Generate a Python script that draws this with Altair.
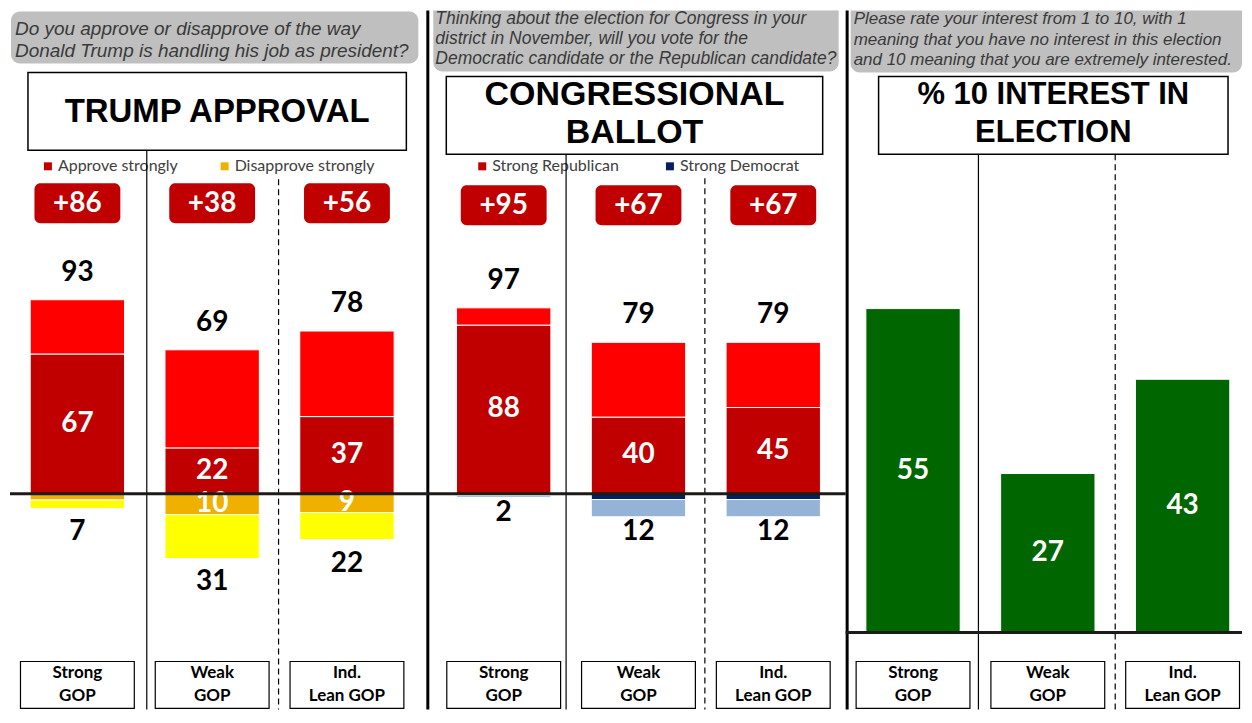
import altair as alt
import pandas as pd

# ---------------- data ----------------
groups = ["Strong GOP", "Weak GOP", "Ind. Lean GOP"]
group_line1 = ["Strong", "Weak", "Ind."]
group_line2 = ["GOP", "GOP", "Lean GOP"]

approve_strong = [67, 22, 37]
approve_total = [93, 69, 78]
disapprove_strong = [3, 10, 9]
disapprove_total = [7, 31, 22]

rep_strong = [88, 40, 45]
rep_total = [97, 79, 79]
dem_strong = [1, 3, 3]
dem_total = [2, 12, 12]

interest_10 = [55, 27, 43]

q1 = ["Do you approve or disapprove of the way",
      "Donald Trump is handling his job as president?"]
q2 = ["Thinking about the election for Congress in your",
      "district in November, will you vote for the",
      "Democratic candidate or the Republican candidate?"]
q3 = ["Please rate your interest from 1 to 10, with 1",
      "meaning that you have no interest in this election",
      "and 10 meaning that you are extremely interested."]
t1 = ["TRUMP APPROVAL"]
t2 = ["CONGRESSIONAL", "BALLOT"]
t3 = ["% 10 INTEREST IN", "ELECTION"]
legend1 = ["Approve strongly", "Disapprove strongly"]
legend2 = ["Strong Republican", "Strong Democrat"]

# ---------------- styling ----------------
H = 700
NUM_FONT = "Lato"
DARK_RED = "#C00000"
ONE = pd.DataFrame({"k": [0]})


def vtext(s, x, y, size, color="black", font="Liberation Sans", weight="normal",
          style="normal", align="center"):
    return alt.Chart(ONE).mark_text(
        text=s, font=font, fontSize=size, fontWeight=weight, fontStyle=style,
        color=color, align=align, baseline="middle"
    ).encode(x=alt.value(x), y=alt.value(y))


def vrect(x1, x2, y1, y2, **kw):
    return alt.Chart(ONE).mark_rect(**kw).encode(
        x=alt.value(x1), x2=alt.value(x2), y=alt.value(y1), y2=alt.value(y2))


def vrule(x1, y1, x2, y2, **kw):
    return alt.Chart(ONE).mark_rule(**kw).encode(
        x=alt.value(x1), x2=alt.value(x2), y=alt.value(y1), y2=alt.value(y2))


def xenc(r0, r1):
    return alt.X("group:N", axis=None,
                 scale=alt.Scale(domain=groups, range=[r0, r1],
                                 paddingInner=0.3, paddingOuter=0.15))


def yenc(field, lo, hi):
    return alt.Y(field, type="quantitative", axis=None,
                 scale=alt.Scale(domain=[lo, hi], nice=False, zero=False))


def question(lines, x0, x1, y0, y1, tx, ty0, step, size, top_round=True):
    if top_round:
        box = vrect(x0, x1, y0, y1, fill="#BFBFBF", cornerRadius=9)
    else:
        box = vrect(x0, x1, y0, y1, fill="#BFBFBF",
                    cornerRadiusBottomLeft=9, cornerRadiusBottomRight=9)
    out = [box]
    for i, s in enumerate(lines):
        out.append(vtext(s, tx, ty0 + i * step, size, color="#3A3A3A",
                         style="italic", align="left"))
    return out


def title(lines, x0, x1, y0, y1, ty0, step, size):
    out = [vrect(x0, x1, y0, y1, fill="white", stroke="black", strokeWidth=1.5)]
    cx = (x0 + x1) / 2
    for i, s in enumerate(lines):
        out.append(vtext(s, cx, ty0 + i * step, size, weight="bold"))
    return out


def legend(items, colors, xs, y):
    out = []
    for s, c, x in zip(items, colors, xs):
        out.append(vrect(x, x + 8, y - 4, y + 4, fill=c))
        out.append(vtext(s, x + 14, y, 16, color="#404040", font="Lato", align="left"))
    return out


def bottom_boxes(df, X):
    base = alt.Chart(df)
    return [
        base.mark_bar(width=114, fill="white", stroke="black", strokeWidth=1.2)
            .encode(x=X, y=alt.value(652), y2=alt.value(699)),
        base.mark_text(font="Lato", fontWeight="bold", fontSize=17, baseline="middle")
            .encode(x=X, y=alt.value(664), text="l1:N"),
        base.mark_text(font="Lato", fontWeight="bold", fontSize=17, baseline="middle")
            .encode(x=X, y=alt.value(687), text="l2:N"),
    ]


def diverging(d, X, lo, hi, cols, dy_top, dy_bot, badge_y):
    base = alt.Chart(d)
    Y = lambda f: yenc(f, lo, hi)
    sty = dict(stroke="white", strokeWidth=1)
    num = dict(font=NUM_FONT, fontWeight="bold", fontSize=28, baseline="middle")
    return [
        base.mark_bar(color=cols[0], **sty).encode(x=X, y=Y("s"), y2="zero"),
        base.mark_bar(color=cols[1], **sty).encode(x=X, y=Y("t"), y2="s"),
        base.mark_bar(color=cols[2], **sty).encode(x=X, y=Y("ns"), y2="zero"),
        base.mark_bar(color=cols[3], **sty).encode(x=X, y=Y("nt"), y2="ns"),
        base.mark_text(dy=dy_top, **num).encode(x=X, y=Y("t"), text="t:Q"),
        base.mark_text(color="white", **num).encode(x=X, y=Y("smid"), text="s:Q"),
        base.transform_filter("datum.ds >= 5").mark_text(color="white", **num)
            .encode(x=X, y=Y("nsmid"), text="ds:Q"),
        base.mark_text(dy=dy_bot, **num).encode(x=X, y=Y("nt"), text="dt:Q"),
        base.mark_bar(width=86, color=DARK_RED, cornerRadius=6)
            .encode(x=X, y=alt.value(badge_y), y2=alt.value(badge_y + 40)),
        base.mark_text(color="white", **num)
            .encode(x=X, y=alt.value(badge_y + 21), text="net:N"),
    ]


def div_frame(strong, total, opp_strong, opp_total):
    d = pd.DataFrame({"group": groups, "l1": group_line1, "l2": group_line2,
                      "s": strong, "t": total,
                      "ds": opp_strong, "dt": opp_total})
    d["ns"] = -d["ds"]
    d["nt"] = -d["dt"]
    d["zero"] = 0
    d["smid"] = d["s"] / 2
    d["nsmid"] = d["ns"] / 2
    d["net"] = ["+%d" % (a - b) for a, b in zip(total, opp_total)]
    return d


def zero_line(lo, hi, width):
    return alt.Chart(ONE).mark_rule(color="#1E1A17", strokeWidth=3).encode(
        y=alt.Y(datum=0, type="quantitative", axis=None,
                scale=alt.Scale(domain=[lo, hi], nice=False, zero=False)),
        x=alt.value(0), x2=alt.value(width))


# ---------------- panel 1: Trump approval ----------------
W1 = 417
lo1, hi1 = -(H - 484) / 2.09, 484 / 2.09
d1 = div_frame(approve_strong, approve_total, disapprove_strong, disapprove_total)
X1 = xenc(0, 405)
p1_layers = (
    question(q1, 1, 409, 1, 53, 5, 18, 23, 19)
    + title(t1, 18, 397, 62, 140, 102, 0, 33)
    + legend(legend1, [DARK_RED, "#F0B000"], [34, 211], 156)
    + [vrule(137, 140, 137, H, color="black", strokeWidth=1.2),
       vrule(269, 169, 269, H, color="black", strokeWidth=1.2, strokeDash=[6, 4])]
    + diverging(d1, X1, lo1, hi1, [DARK_RED, "#FF0000", "#F0B000", "#FFFF00"], -27, 24, 173)
    + [zero_line(lo1, hi1, W1)]
    + bottom_boxes(d1, X1)
)
p1 = alt.layer(*p1_layers).properties(width=W1, height=H)

# ---------------- panel 2: Congressional ballot ----------------
W2 = 420
lo2, hi2 = -(H - 484) / 1.92, 484 / 1.92
d2 = div_frame(rep_strong, rep_total, dem_strong, dem_total)
X2 = xenc(10, 415)
p2_layers = (
    [vrule(1.5, 0, 1.5, H, color="black", strokeWidth=3)]
    + question(q2, 7, 413, 0, 61, 9, 8, 20.5, 17.5, top_round=False)
    + title(t2, 20, 397, 66, 144, 85, 38, 34)
    + legend(legend2, [DARK_RED, "#002060"], [52, 240], 156)
    + [vrule(140, 144, 140, H, color="black", strokeWidth=1.2),
       vrule(279, 168, 279, H, color="black", strokeWidth=1.2, strokeDash=[6, 4])]
    + diverging(d2, X2, lo2, hi2, [DARK_RED, "#FF0000", "#002060", "#95B3D7"], -27, 15, 175)
    + [zero_line(lo2, hi2, W2)]
    + bottom_boxes(d2, X2)
)
p2 = alt.layer(*p2_layers).properties(width=W2, height=H)

# ---------------- panel 3: interest ----------------
W3 = 397
lo3, hi3 = -(H - 623) / 5.9, 623 / 5.9
d3 = pd.DataFrame({"group": groups, "l1": group_line1, "l2": group_line2,
                   "v": interest_10})
d3["zero"] = 0
d3["mid"] = d3["v"] / 2
X3 = xenc(0, 405)
b3 = alt.Chart(d3)
p3_layers = (
    [vrule(1.5, 0, 1.5, H, color="black", strokeWidth=3)]
    + question(q3, 5, W3, 0, 62, 8, 8, 21, 17, top_round=False)
    + title(t3, 33, 383, 66, 144, 85, 38, 31)
    + [vrule(133, 144, 133, H, color="black", strokeWidth=1.2),
       vrule(270, 144, 270, H, color="black", strokeWidth=1.2, strokeDash=[6, 4])]
    + [b3.mark_bar(color="#006600", stroke="white", strokeWidth=1)
         .encode(x=X3, y=yenc("v", lo3, hi3), y2="zero"),
       b3.mark_text(color="white", font=NUM_FONT, fontWeight="bold", fontSize=28,
                    baseline="middle")
         .encode(x=X3, y=yenc("mid", lo3, hi3), text="v:Q"),
       zero_line(lo3, hi3, W3)]
    + bottom_boxes(d3, X3)
)
p3 = alt.layer(*p3_layers).properties(width=W3, height=H)

chart = (
    alt.hconcat(p1, p2, p3, spacing=0, bounds="flush", padding=0)
    .resolve_scale(x="independent", y="independent")
    .configure_view(stroke=None)
)

chart.save("out.html", embed_options={"renderer": "svg", "actions": False})
